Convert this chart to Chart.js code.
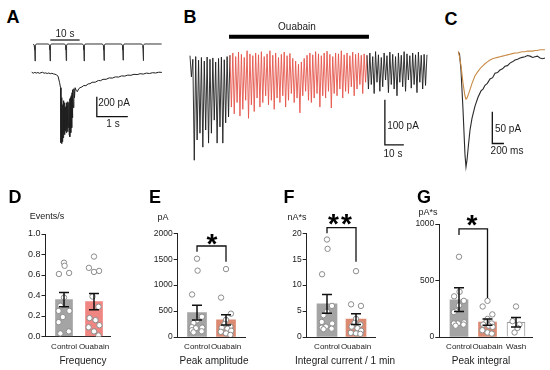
<!DOCTYPE html>
<html>
<head>
<meta charset="utf-8">
<script src="https://cdn.jsdelivr.net/npm/chart.js@4.4.1/dist/chart.umd.min.js"></script>
<style>
  body { margin: 0; width: 550px; height: 370px; position: relative; overflow: hidden; background: #fff;
         font-family: "Liberation Sans", Arial, sans-serif; color: #1a1a1a; }
  canvas { position: absolute; }
  .t { position: absolute; transform: translate(-50%, -50%); line-height: 1; white-space: nowrap; }
  .L { font-weight: bold; font-size: 18px; color: #000; }
  .s { font-size: 10px; }
  .u { font-size: 9px; }
  .st { font-weight: bold; font-size: 28px; color: #000; }
</style>
</head>
<body>
<canvas id="aTop" width="135" height="32" style="left:30px;top:34px"></canvas>
<canvas id="aBot" width="135" height="92" style="left:30px;top:62px"></canvas>
<canvas id="bTr" width="242" height="137" style="left:188px;top:30px"></canvas>
<canvas id="cTr" width="93" height="135" style="left:455px;top:40px"></canvas>
<canvas id="pD" width="135" height="175" style="left:0px;top:195px"></canvas>
<canvas id="pE" width="135" height="175" style="left:135px;top:195px"></canvas>
<canvas id="pF" width="135" height="175" style="left:270px;top:195px"></canvas>
<canvas id="pG" width="145" height="175" style="left:405px;top:195px"></canvas>

<div class="t L" style="left:13px;top:17px">A</div>
<div class="t L" style="left:190px;top:17px">B</div>
<div class="t L" style="left:451px;top:19px">C</div>
<div class="t L" style="left:15px;top:197px">D</div>
<div class="t L" style="left:155px;top:197px">E</div>
<div class="t L" style="left:289px;top:197px">F</div>
<div class="t L" style="left:424px;top:197px">G</div>

<div class="t s" style="left:65px;top:34px">10 s</div>
<div class="t s" style="left:114px;top:103px">200 pA</div>
<div class="t s" style="left:113px;top:124px">1 s</div>
<div class="t s" style="left:297px;top:27px">Ouabain</div>
<div class="t s" style="left:403px;top:126px">100 pA</div>
<div class="t s" style="left:393px;top:154px">10 s</div>
<div class="t s" style="left:508px;top:129px">50 pA</div>
<div class="t s" style="left:507px;top:151px">200 ms</div>

<div class="t u" style="left:47px;top:216px">Events/s</div>
<div class="t u" style="left:163px;top:217px">pA</div>
<div class="t u" style="left:297px;top:217px">nA*s</div>
<div class="t u" style="left:428px;top:212px">pA*s</div>

<div class="t s" style="left:83px;top:361px">Frequency</div>
<div class="t s" style="left:214px;top:361px">Peak amplitude</div>
<div class="t s" style="left:345px;top:361px">Integral current / 1 min</div>
<div class="t s" style="left:481px;top:361px">Peak integral</div>

<div class="t st" style="left:212px;top:244px">*</div>
<div class="t st" style="left:341px;top:224px;letter-spacing:2px">**</div>
<div class="t st" style="left:472px;top:225px">*</div>

<script>
// ---- A: top trace (s, relative amplitude) ----
const aTopT = [0, 0.3, 0.5, 0.6, 0.7, 1.0,
  5.2, 5.5, 5.65, 5.75, 5.85, 6.1,
  10.7, 11.0, 11.15, 11.25, 11.35, 11.6,
  16.8, 17.1, 17.25, 17.35, 17.45, 17.7,
  23.6, 23.9, 24.05, 24.15, 24.25, 24.5,
  30.1, 30.4, 30.55, 30.65, 30.75, 31.0,
  37.0, 37.3, 37.45, 37.55, 37.65, 37.9,
  43.8];
const aTopV = [0, -0.08, -0.35, -1, -0.1, 0,
  0, -0.08, -0.35, -1, -0.1, 0,
  0, -0.08, -0.35, -0.98, -0.1, 0,
  0, -0.08, -0.35, -1, -0.1, 0,
  0, -0.08, -0.35, -0.97, -0.1, 0,
  0, -0.08, -0.35, -0.95, -0.1, 0,
  0, -0.08, -0.35, -0.98, -0.1, 0,
  0];

// ---- A: lower trace (s, pA) ----
const aBotT = [0, 0.05, 0.1, 0.15, 0.2, 0.25, 0.3, 0.35, 0.4, 0.45, 0.5, 0.55, 0.6, 0.65, 0.7, 0.75, 0.8, 0.85, 0.9,
  0.93, 0.945, 0.955, 0.965, 0.975, 0.99, 1.0, 1.01, 1.025, 1.035, 1.05, 1.06, 1.07, 1.085, 1.095, 1.11, 1.12,
  1.135, 1.145, 1.16, 1.17, 1.185, 1.2, 1.21, 1.225, 1.235, 1.25, 1.26, 1.275, 1.29, 1.3, 1.31, 1.33, 1.345,
  1.36, 1.38, 1.4,
  1.43, 1.47, 1.52, 1.56, 1.62, 1.68, 1.75, 1.82, 1.88, 1.95, 2.05, 2.15, 2.22, 2.3, 2.4, 2.5, 2.6, 2.7, 2.8,
  2.9, 3.0, 3.1, 3.2, 3.3, 3.4, 3.5, 3.6, 3.7, 3.8, 3.9, 4.0, 4.1, 4.2];
const aBotV = [5, -5, 3, -4, 2, -6, 0, 4, -5, -2, -8, -3, -10, -6, -12, -15, -22, -35, -100,
  -150, -700, -300, -710, -250, -690, -320, -650, -280, -600, -350, -620, -300, -580, -340, -600, -300,
  -560, -330, -590, -290, -550, -300, -620, -260, -640, -250, -600, -230, -550, -200, -450, -170, -350,
  -160, -250, -150,
  -175, -190, -160, -150, -142, -128, -130, -112, -110, -96, -95, -78, -80, -66, -66, -52, -54, -42, -44,
  -32, -34, -24, -26, -16, -19, -10, -14, -4, -8, 0, -3, 5, 3];

// ---- B: event tops and dips (pA) before / during / after ouabain ----
const bTopsPre = [-6, -14, -8, -16, -10, -18, -9, -14, -11, -20, -12, -9, -15, -8];
const bDipsPre = [-53, -238, -193, -178, -209, -171, -200, -178, -149, -200, -164, -200, -155, -142];
const bTopsOua = [-5, 0, -8, 2, -3, -10, 5, -2, -6, 0,
  -4, 3, -8, -2, 5, -5, 0, -10, -3, 2,
  -6, -1, -12, -18, -25, -20, -12, -5, 0, -4,
  3, -2, -6, 0, 4, -3, -8, 0, -2, 5,
  -4, 0, -6, 2, -3, 0, -5, -2];
const bDipsOua = [-120, -135, -110, -140, -125, -105, -145, -115, -130, -100,
  -120, -110, -95, -115, -105, -125, -100, -110, -95, -120,
  -105, -90, -110, -100, -133, -95, -85, -105, -110, -100,
  -90, -120, -95, -100, -85, -122, -90, -95, -80, -100,
  -85, -90, -75, -95, -80, -70, -90, -65];
const bTopsWash = [-5, 0, -8, 3, -4, -10, 0, -6, 2, -3, -8, 0, -5, 3, -2, -6, 0, -4, 2, -5, -3];
const bDipsWash = [-80, -70, -90, -65, -85, -75, -60, -88, -70, -80, -95, -65, -75, -85, -60, -78, -70, -88, -65, -80, -72];
const bDuration = 125; // s

// ---- C: averaged events (ms, pA) ----
const cT = [0, 21, 46, 81, 115, 132, 150, 175, 201, 236, 287, 339, 390, 425, 459, 500, 545, 590, 631, 675, 717,
  760, 803, 845, 889, 930, 975, 1020, 1061, 1100, 1147, 1190, 1233, 1280, 1319, 1360, 1405, 1450, 1491];
const cCtrl = [0, -4, -29, -92, -163, -182, -171, -147, -124, -105, -86, -72, -62, -59, -53, -50, -43, -41, -34, -33, -29,
  -27, -23, -22, -18, -16, -13, -12, -10, -9, -8, -6, -7, -9, -8, -7, -10, -11, -10];
const cOua = [0, -8, -22, -50, -70, -75, -73, -67, -60, -50, -38, -31, -25, -22, -19, -16, -13, -11, -10, -9, -8,
  -7, -6, -5, -4, -3, -2, -2, -1, 0, 0, 1, 1, 1, 2, 2, 3, 3, 3];

// ---- D-G: bar panels ----
const groups2 = ['Control', 'Ouabain'];
const groups3 = ['Control', 'Ouabain', 'Wash'];

const freqMean = [0.36, 0.34];
const freqSem = [0.07, 0.08];
const freqCtrl = [0.72, 0.69, 0.61, 0.62, 0.38, 0.30, 0.25, 0.25, 0.19, 0.14, 0.05, 0.03];
const freqOua = [0.78, 0.67, 0.64, 0.63, 0.39, 0.29, 0.18, 0.16, 0.11, 0.09, 0.05, 0.01];

const ampMean = [470, 330];
const ampSem = [140, 100];
const ampCtrl = [1510, 1280, 820, 390, 320, 270, 190, 180, 170, 130, 110, 90];
const ampOua = [1310, 760, 450, 330, 250, 200, 180, 160, 120, 100, 70, 40];

const intMean = [6.4, 3.45];
const intSem = [1.8, 1.05];
const intCtrl = [18.8, 17.0, 12.1, 6.0, 4.9, 4.2, 2.9, 2.6, 2.0, 1.8, 1.6, 1.5];
const intOua = [12.7, 6.3, 6.0, 3.5, 2.7, 2.4, 2.0, 1.7, 1.2, 0.8, 0.7, 0.6];

const pkMean = [330, 132, 130];
const pkSem = [105, 28, 42];
const pkCtrl = [710, 400, 360, 320, 280, 230, 220, 130, 120, 120, 110, 100];
const pkOua = [320, 270, 200, 160, 130, 120, 110, 100, 90, 60, 40, 30];
const pkWash = [270, 140, 110, 80, 40];

// horizontal scatter of the dots (category units)
const jit12a = [0, 0.02, -0.17, 0.17, 0, -0.12, -0.18, 0.18, -0.04, -0.18, 0.16, -0.12];
const jit12b = [0, -0.17, 0.17, 0, -0.05, 0.15, -0.15, 0.05, 0.18, -0.18, 0, 0.15];
const jit5 = [0, -0.12, 0.12, 0.05, -0.05];

Chart.defaults.font.family = '"Liberation Sans", Arial, sans-serif';
Chart.defaults.color = '#222';

const INK = '#1e1e1e';
const RED = '#e4564c';

function drawPaths(paths) {
  return {
    id: 'paths',
    afterDatasetsDraw(chart) {
      const { ctx, scales: { x, y } } = chart;
      ctx.save();
      paths.forEach(p => {
        ctx.strokeStyle = p.color || '#111';
        ctx.lineWidth = p.w || 1.3;
        ctx.beginPath();
        p.pts.forEach(([vx, vy], i) => {
          const X = x.getPixelForValue(vx), Y = y.getPixelForValue(vy);
          i ? ctx.lineTo(X, Y) : ctx.moveTo(X, Y);
        });
        ctx.stroke();
      });
      ctx.restore();
    }
  };
}

function traceChart(id, datasets, xr, yr, paths) {
  return new Chart(document.getElementById(id), {
    type: 'line',
    data: { datasets },
    options: {
      responsive: false, animation: false, events: [],
      layout: { padding: 0 },
      plugins: { legend: { display: false }, tooltip: { enabled: false } },
      scales: {
        x: { type: 'linear', display: false, min: xr[0], max: xr[1] },
        y: { display: false, min: yr[0], max: yr[1] },
      },
      elements: { point: { radius: 0 }, line: { borderWidth: 1, tension: 0 } },
    },
    plugins: [drawPaths(paths)],
  });
}

const xy = (ts, vs) => ts.map((t, i) => ({ x: t, y: vs[i] }));

// A
traceChart('aTop', [{ data: xy(aTopT, aTopV), borderColor: '#333', borderWidth: 1 }],
  [-1.13, 44.95], [-1.294, 0.588],
  [{ pts: [[5.8, 0.235], [15.8, 0.235]], w: 1.2 }]);
traceChart('aBot', [{ data: xy(aBotT, aBotV), borderColor: INK, borderWidth: 1 }],
  [-0.055, 4.3], [-813, 107],
  [{ pts: [[2.1, -240], [2.1, -440], [3.1, -440]], w: 1.3 }]);

// B
const bTops = [...bTopsPre, ...bTopsOua, ...bTopsWash];
const bDips = [...bDipsPre, ...bDipsOua, ...bDipsWash];
const bVals = [];
bTops.forEach((v, k) => { bVals.push(v, bDips[k]); });
bVals.push(-4);
const bDt = bDuration / (bVals.length - 1);
const redFrom = 2 * bTopsPre.length, redTo = 2 * (bTopsPre.length + bTopsOua.length);
traceChart('bTr', [{
  data: bVals.map((v, i) => ({ x: i * bDt, y: v })),
  borderColor: INK, borderWidth: 0.9,
  segment: { borderColor: c => (c.p0DataIndex >= redFrom && c.p0DataIndex < redTo ? RED : INK) },
}], [-1.05, 126.6], [-253, 51],
  [{ pts: [[20.6, 36], [94.4, 36]], w: 4, color: '#000' },
   { pts: [[102.8, -104], [102.8, -204], [112.8, -204]], w: 1.3 }]);

// C
traceChart('cTr', [
  { data: xy(cT, cOua), borderColor: '#c98a45', borderWidth: 1.1 },
  { data: xy(cT, cCtrl), borderColor: '#2a2a2a', borderWidth: 1.1 },
], [-57, 1543], [-194.8, 18.5],
  [{ pts: [[585, -95], [585, -145], [785, -145]], w: 1.3 }]);

// bar panels
function statPanel(id, p) {
  const datasets = [{
    type: 'bar', order: 3,
    data: p.means.map((m, i) => ({ x: i, y: m })),
    backgroundColor: p.fills, borderColor: p.edges, borderWidth: p.edgeW,
    barThickness: p.barW,
  }];
  p.values.forEach((vals, i) => datasets.push({
    type: 'scatter', order: 1,
    data: vals.map((v, k) => ({ x: i + p.jitter[i][k], y: v })),
    pointRadius: 2.7, pointBorderWidth: 1, pointBorderColor: '#8c8c8c', pointBackgroundColor: '#fff',
  }));
  const errPlugin = {
    id: 'err',
    afterDatasetsDraw(chart) {
      const { ctx, scales: { x, y } } = chart;
      ctx.save();
      ctx.strokeStyle = '#111';
      ctx.lineWidth = 1.5;
      p.means.forEach((m, i) => {
        const X = x.getPixelForValue(i);
        const hi = y.getPixelForValue(m + p.sems[i]), lo = y.getPixelForValue(m - p.sems[i]);
        ctx.beginPath();
        ctx.moveTo(X, hi); ctx.lineTo(X, lo);
        ctx.moveTo(X - 5, hi); ctx.lineTo(X + 5, hi);
        ctx.moveTo(X - 5, lo); ctx.lineTo(X + 5, lo);
        ctx.stroke();
      });
      if (p.bracket) {
        const b = p.bracket;
        ctx.lineWidth = 1.3;
        ctx.beginPath();
        ctx.moveTo(x.getPixelForValue(0), y.getPixelForValue(b.left));
        ctx.lineTo(x.getPixelForValue(0), y.getPixelForValue(b.top));
        ctx.lineTo(x.getPixelForValue(1), y.getPixelForValue(b.top));
        ctx.lineTo(x.getPixelForValue(1), y.getPixelForValue(b.right));
        ctx.stroke();
      }
      ctx.restore();
    }
  };
  return new Chart(document.getElementById(id), {
    type: 'bar',
    data: { datasets },
    options: {
      responsive: false, animation: false, events: [],
      layout: { padding: { left: 0, top: p.top, right: p.right, bottom: 0 } },
      plugins: { legend: { display: false }, tooltip: { enabled: false } },
      scales: {
        x: {
          type: 'linear', offset: false, min: p.xr[0], max: p.xr[1],
          grid: { display: false, drawTicks: false },
          border: { display: true, color: '#222', width: 1 },
          ticks: { stepSize: 1, includeBounds: false, autoSkip: false, maxRotation: 0, padding: 5,
                   font: { size: 8 }, color: '#222', callback: v => p.names[v] ?? '' },
          afterFit: s => { s.height = p.xh; },
        },
        y: {
          min: 0, max: p.ymax,
          grid: { drawOnChartArea: false, drawTicks: true, tickLength: 4, color: '#222' },
          border: { display: true, color: '#222', width: 1 },
          ticks: { stepSize: p.step, padding: 1, font: { size: p.tickSize }, color: '#222', callback: p.fmt },
          afterFit: s => { s.width = p.yw; },
        },
      },
    },
    plugins: [errPlugin],
  });
}

const GRAY = '#a4a4a4';

statPanel('pD', {
  names: groups2, means: freqMean, sems: freqSem, values: [freqCtrl, freqOua], jitter: [jit12a, jit12b],
  fills: [GRAY, '#ef8682'], edges: [GRAY, '#ef8682'], edgeW: 0, barW: 17,
  ymax: 1, step: 0.2, fmt: v => v.toFixed(1), tickSize: 9,
  top: 39, right: 25, yw: 45.5, xh: 33.5, xr: [-0.617, 1.533],
});
statPanel('pE', {
  names: groups2, means: ampMean, sems: ampSem, values: [ampCtrl, ampOua], jitter: [jit12a, jit12b],
  fills: [GRAY, '#dc8a72'], edges: [GRAY, '#dc8a72'], edgeW: 0, barW: 19,
  ymax: 2000, step: 500, fmt: v => String(v), tickSize: 8.5,
  top: 38.3, right: 25, yw: 42.7, xh: 33, xr: [-0.666, 1.655],
  bracket: { top: 1755, left: 1645, right: 1450 },
});
statPanel('pF', {
  names: groups2, means: intMean, sems: intSem, values: [intCtrl, intOua], jitter: [jit12a, jit12b],
  fills: [GRAY, '#dc8a72'], edges: [GRAY, '#dc8a72'], edgeW: 0, barW: 20,
  ymax: 20, step: 5, fmt: v => String(v), tickSize: 8.5,
  top: 38.3, right: 30, yw: 36.7, xh: 33, xr: [-0.7, 1.655],
  bracket: { top: 21.1, left: 20.0, right: 14.5 },
});
statPanel('pG', {
  names: groups3, means: pkMean, sems: pkSem, values: [pkCtrl, pkOua, pkWash], jitter: [jit12a, jit12b, jit5],
  fills: [GRAY, '#dc8a72', '#ffffff'], edges: [GRAY, '#dc8a72', '#9a9a9a'], edgeW: [0, 0, 1], barW: 18,
  ymax: 1000, step: 500, fmt: v => String(v), tickSize: 8.5,
  top: 29, right: 18, yw: 34.3, xh: 33, xr: [-0.691, 2.561],
  bracket: { top: 956, left: 903, right: 345 },
});
</script>
</body>
</html>
